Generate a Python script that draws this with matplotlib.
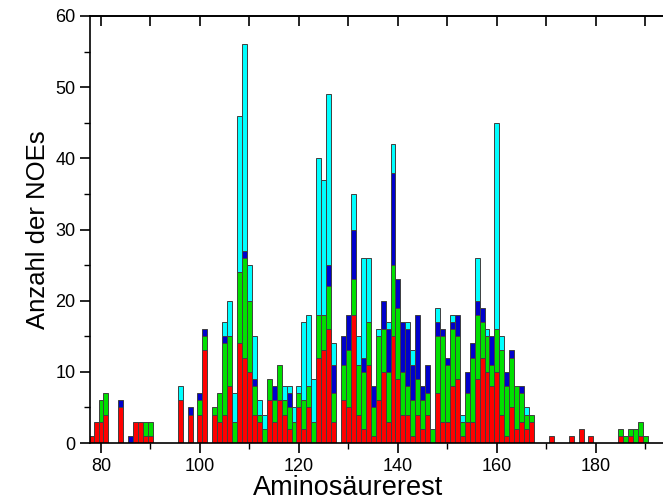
import numpy as np
import matplotlib.pyplot as plt
from matplotlib.ticker import MultipleLocator

plt.rcParams['font.family'] = ['Liberation Sans Narrow', 'Liberation Sans', 'DejaVu Sans']

# residue numbers 78..190
residues = np.arange(78, 191)

# cumulative tops per residue: red, red+green, +blue, total (cyan)
tops = {
    78: (1, 1, 1, 1), 79: (3, 3, 3, 3), 80: (3, 6, 6, 6), 81: (4, 7, 7, 7),
    84: (5, 5, 6, 6), 86: (0, 0, 1, 1), 87: (3, 3, 3, 3), 88: (3, 3, 3, 3),
    89: (1, 3, 3, 3), 90: (1, 3, 3, 3), 96: (6, 6, 6, 8), 98: (4, 4, 5, 5),
    100: (4, 6, 7, 7), 101: (13, 15, 16, 16), 103: (4, 5, 5, 5), 104: (3, 7, 7, 7),
    105: (4, 14, 15, 17), 106: (8, 15, 15, 20), 107: (0, 3, 3, 7), 108: (14, 24, 24, 46),
    109: (12, 26, 27, 56), 110: (10, 20, 20, 25), 111: (4, 8, 9, 15), 112: (3, 4, 4, 6),
    113: (0, 2, 2, 4), 114: (6, 9, 9, 9), 115: (3, 6, 8, 8), 116: (6, 11, 11, 11),
    117: (4, 6, 6, 8), 118: (2, 5, 7, 8), 119: (0, 3, 3, 5), 120: (5, 7, 7, 8),
    121: (2, 6, 6, 17), 122: (5, 8, 8, 18), 123: (0, 3, 3, 9), 124: (12, 18, 18, 40),
    125: (13, 18, 18, 37), 126: (16, 22, 25, 49), 127: (3, 7, 11, 14),
    129: (6, 11, 15, 15), 130: (5, 13, 18, 18), 131: (18, 23, 30, 35), 132: (4, 11, 11, 15),
    133: (2, 10, 12, 26), 134: (11, 17, 17, 26), 135: (1, 5, 8, 8), 136: (6, 15, 15, 16),
    137: (10, 16, 20, 20), 138: (3, 10, 16, 17), 139: (15, 25, 38, 42), 140: (9, 19, 23, 23),
    141: (4, 10, 17, 17), 142: (4, 8, 16, 17), 143: (1, 6, 11, 13), 144: (4, 9, 18, 18),
    145: (2, 6, 8, 8), 146: (4, 7, 11, 11), 147: (0, 2, 2, 2), 148: (7, 15, 17, 19),
    149: (3, 15, 16, 16), 150: (3, 11, 12, 12), 151: (8, 16, 17, 18), 152: (9, 15, 18, 18),
    153: (1, 3, 3, 4), 154: (3, 7, 10, 10), 155: (3, 12, 14, 14), 156: (9, 18, 20, 26),
    157: (12, 17, 19, 19), 158: (10, 15, 15, 16), 159: (8, 11, 15, 15), 160: (10, 16, 16, 45),
    161: (4, 13, 13, 15), 162: (1, 8, 10, 10), 163: (5, 12, 13, 13), 164: (2, 8, 8, 8),
    165: (3, 7, 8, 8), 166: (2, 4, 4, 5), 167: (3, 4, 4, 4), 171: (1, 1, 1, 1),
    175: (1, 1, 1, 1), 177: (2, 2, 2, 2), 179: (1, 1, 1, 1), 185: (1, 2, 2, 2),
    186: (0, 1, 1, 1), 187: (1, 2, 2, 2), 188: (0, 2, 2, 2), 189: (1, 3, 3, 3),
    190: (0, 1, 1, 1),
}

cum = np.array([tops.get(r, (0, 0, 0, 0)) for r in residues], dtype=float)
red = cum[:, 0]
green = cum[:, 1] - cum[:, 0]
blue = cum[:, 2] - cum[:, 1]
cyan = cum[:, 3] - cum[:, 2]

fig = plt.figure(figsize=(6.63, 5), dpi=100)
ax = fig.add_axes([90 / 663, 57 / 500, 1 - 90 / 663 + 0.01, 427 / 500])

edge = dict(edgecolor='#404040', linewidth=0.7, width=1.0)
bottom = np.zeros(len(residues))
for vals, col in [(red, '#ff0000'), (green, '#00e000'), (blue, '#0000cc'), (cyan, '#00ffff')]:
    mask = vals > 0
    ax.bar(residues[mask], vals[mask], bottom=bottom[mask], color=col, **edge)
    bottom = bottom + vals

ax.set_xlim(77.78, 194.9)
ax.set_ylim(0, 60)
ax.xaxis.set_major_locator(MultipleLocator(20))
ax.xaxis.set_minor_locator(MultipleLocator(10))
ax.yaxis.set_major_locator(MultipleLocator(10))
ax.yaxis.set_minor_locator(MultipleLocator(5))
ax.spines['right'].set_visible(False)
for s in ['left', 'bottom', 'top']:
    ax.spines[s].set_linewidth(1.2)
ax.tick_params(axis='both', which='major', direction='out', length=7, width=1.2, labelsize=13)
ax.tick_params(axis='both', which='minor', direction='out', length=4, width=1.0)

# inward ticks along the top edge
top = ax.secondary_xaxis('top')
top.xaxis.set_major_locator(MultipleLocator(10))
top.tick_params(direction='in', length=7, width=1.2, labeltop=False)
top.spines['top'].set_linewidth(1.2)

ax.set_xlabel('Aminosäurerest', fontsize=19.5, family=['Liberation Sans', 'DejaVu Sans'])
ax.xaxis.set_label_coords(0.445, -0.075)
ax.set_ylabel('Anzahl der NOEs', fontsize=18.5, family=['Liberation Sans', 'DejaVu Sans'], labelpad=4)

fig.savefig('out.png', dpi=100)
